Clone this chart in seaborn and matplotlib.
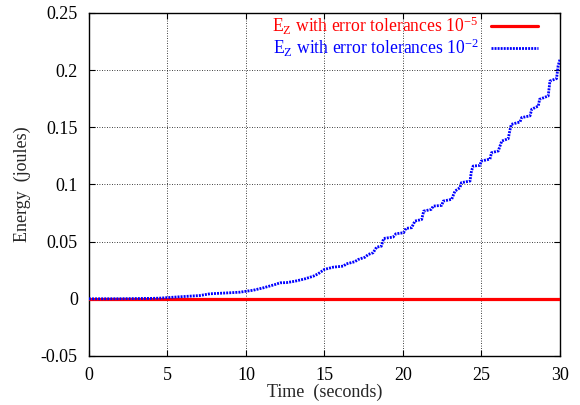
import matplotlib
matplotlib.use('Agg')
import matplotlib.pyplot as plt
import seaborn as sns
import pandas as pd

# energy with tight tolerances (stays at zero)
t_fine = [0, 30]
e_fine = [0, 0]

# energy with loose tolerances
t_coarse = [0, 2, 4, 4.5, 5.8, 7.07, 7.7, 8.98, 9.6, 10.46, 11.1, 11.85, 12.17, 12.59,
            13.12, 13.76, 14.29, 14.6, 14.99, 15.56, 16.2, 16.4, 16.92, 17.15, 17.58, 17.79,
            18.1, 18.32, 18.62, 18.77, 19.37, 19.55, 20.04, 20.19, 20.55, 20.76, 21.19, 21.32,
            21.8, 21.93, 22.46, 22.57, 23.1, 23.31, 23.63, 23.72, 24.27, 24.36, 24.47, 24.9,
            24.99, 25.54, 25.64, 26.07, 26.29, 26.7, 26.82, 26.9, 27.45, 27.56, 28.09, 28.2,
            28.62, 28.7, 29.25, 29.36, 29.78, 29.88, 30]
e_coarse = [0, 0.0001, 0.0004, 0.0006, 0.0018, 0.0029, 0.0044, 0.0053, 0.0058, 0.0075, 0.0096, 0.0125, 0.014, 0.0142,
            0.0154, 0.0175, 0.0198, 0.0219, 0.0257, 0.0277, 0.0286, 0.0306, 0.0324, 0.0344, 0.0364, 0.0388,
            0.0403, 0.0452, 0.046, 0.0528, 0.054, 0.0569, 0.0578, 0.0616, 0.0622, 0.068, 0.0694, 0.0767,
            0.0782, 0.0811, 0.0817, 0.0855, 0.087, 0.0942, 0.0972, 0.1016, 0.103, 0.1117, 0.1161, 0.1167,
            0.1205, 0.1222, 0.1278, 0.1293, 0.138, 0.14, 0.148, 0.1526, 0.1546, 0.1585, 0.16, 0.1658,
            0.1686, 0.1745, 0.1774, 0.1905, 0.1926, 0.2037, 0.2095]

x_ticks = [0, 5, 10, 15, 20, 25, 30]
y_ticks = [-0.05, 0, 0.05, 0.1, 0.15, 0.2, 0.25]
y_tick_labels = ['-0.05', '0', '0.05', '0.1', '0.15', '0.2', '0.25']

sns.set_style('ticks')
plt.rcParams['font.family'] = ['Liberation Serif', 'DejaVu Serif']
plt.rcParams['mathtext.fontset'] = 'custom'
plt.rcParams['mathtext.rm'] = 'Liberation Serif'
plt.rcParams['mathtext.it'] = 'Liberation Serif'

fig = plt.figure(figsize=(5.8, 4.05), dpi=100)
ax = fig.add_axes([0.1534, 0.121, 0.8121, 0.847])

df_fine = pd.DataFrame({'t': t_fine, 'E': e_fine})
df_coarse = pd.DataFrame({'t': t_coarse, 'E': e_coarse})

sns.lineplot(data=df_fine, x='t', y='E', ax=ax, color='#ff0000', linewidth=2.3,
             label=r'E$_{\mathrm{Z}}$ with error tolerances 10$^{\mathrm{-5}}$', zorder=3)
sns.lineplot(data=df_coarse, x='t', y='E', ax=ax, color='#0000ff', linewidth=2.0,
             linestyle=(0, (0.7, 0.4)), sort=False,
             label=r'E$_{\mathrm{Z}}$ with error tolerances 10$^{\mathrm{-2}}$', zorder=4)

ax.set_xlim(0, 30)
ax.set_ylim(-0.05, 0.25)
ax.set_xticks(x_ticks)
ax.set_yticks(y_ticks)
ax.set_yticklabels(y_tick_labels)
ax.tick_params(direction='in', top=True, right=True, length=4, width=0.8,
               labelsize=13, pad=8, colors='black')
ax.grid(True, color='black', linestyle=(0, (1, 2)), linewidth=0.6)
for s in ax.spines.values():
    s.set_linewidth(1.0)
    s.set_color('black')

ax.set_xlabel('Time  (seconds)', fontsize=13, labelpad=0)
ax.set_ylabel('Energy  (joules)', fontsize=13, labelpad=7)

leg = ax.legend(loc='upper right', bbox_to_anchor=(0.953, 0.995), frameon=False,
                markerfirst=False, fontsize=12.7, handlelength=2.67, borderaxespad=0.0,
                labelspacing=-0.02, handletextpad=0.7, borderpad=0.0)
for txt, c in zip(leg.get_texts(), ['#ff0000', '#0000ff']):
    txt.set_color(c)

fig.savefig('out.png', dpi=100)
